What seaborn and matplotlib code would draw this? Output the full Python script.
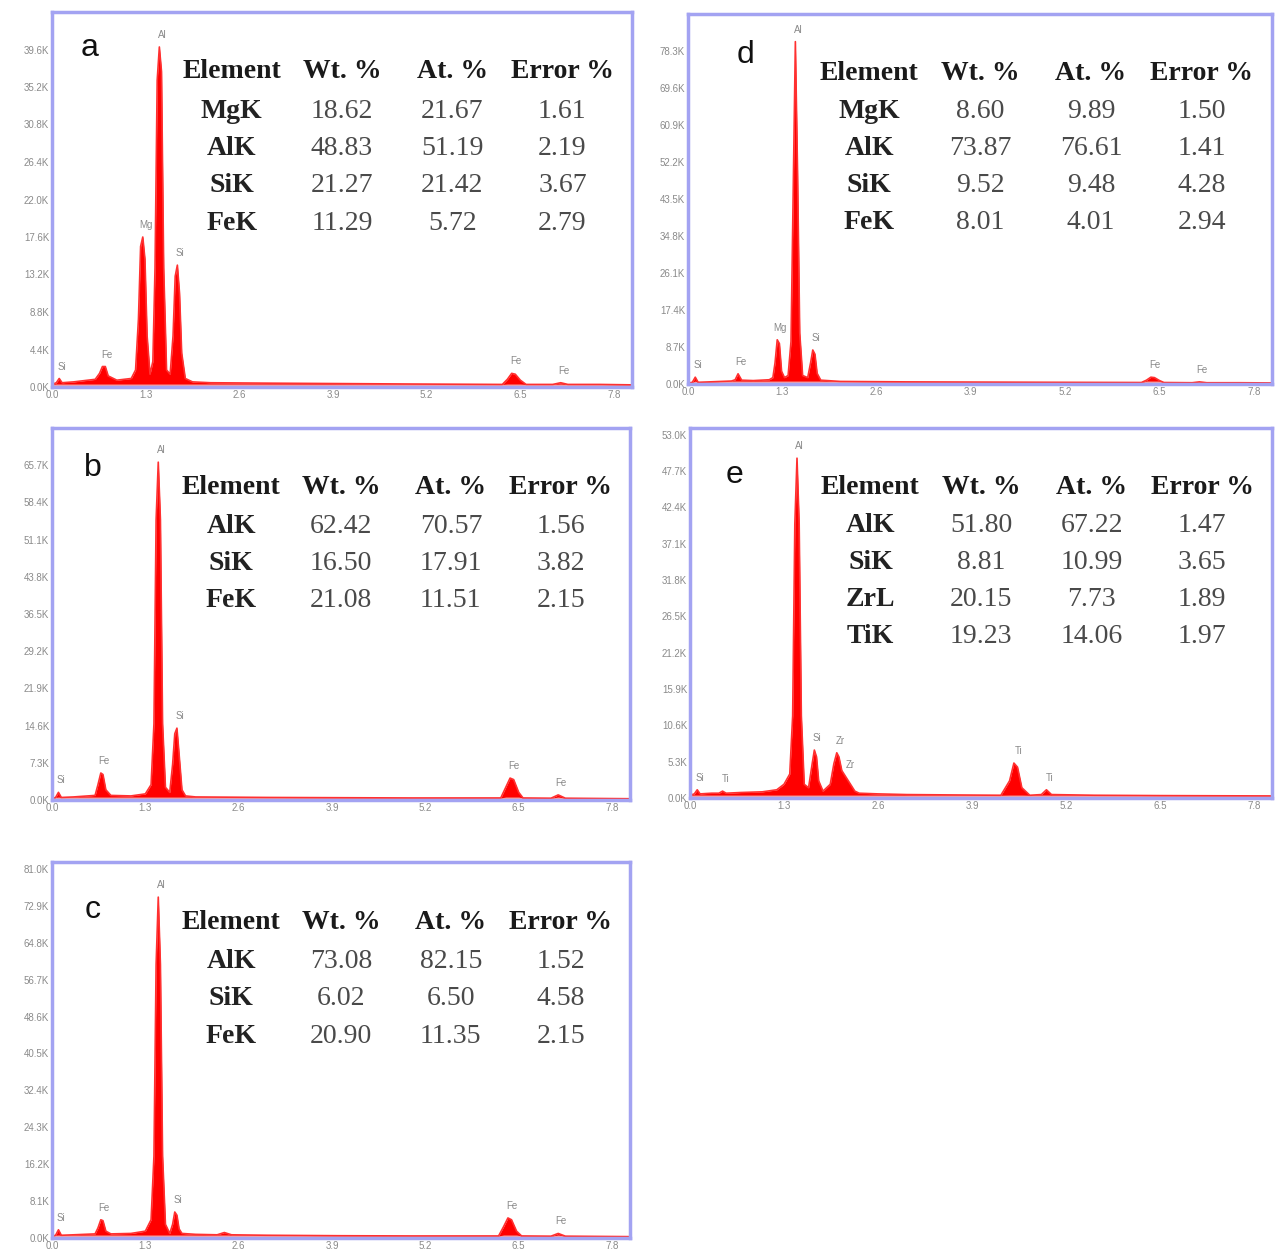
import numpy as np
import matplotlib.pyplot as plt
import seaborn as sns

# EDS spectra: energy in keV, counts in thousands
energy_a = [0.00, 0.06, 0.10, 0.14, 0.30, 0.60, 0.66, 0.70, 0.74, 0.78, 0.90, 1.10, 1.16, 1.20, 1.23,
            1.26, 1.29, 1.32, 1.36, 1.40, 1.43, 1.46, 1.49, 1.52, 1.55, 1.59, 1.64, 1.68, 1.71,
            1.74, 1.77, 1.80, 1.85, 1.95, 2.20, 3.00, 4.00, 5.00, 6.25, 6.32, 6.38, 6.43, 6.50,
            6.58, 6.95, 7.06, 7.16, 7.60, 8.05]
counts_a = [0.3, 0.5, 1.0, 0.5, 0.6, 0.9, 1.6, 2.4, 2.4, 1.3, 0.8, 1.0, 2.0, 8.0, 16.5,
            17.6, 15.0, 6.0, 1.5, 3.0, 14.0, 36.0, 39.9, 37.0, 14.0, 2.0, 1.5, 6.0, 13.0,
            14.3, 11.0, 4.0, 1.0, 0.6, 0.5, 0.45, 0.4, 0.35, 0.3, 0.9, 1.6, 1.5, 0.8,
            0.3, 0.3, 0.5, 0.3, 0.3, 0.25]

energy_d = [0.00, 0.06, 0.10, 0.14, 0.30, 0.60, 0.65, 0.69, 0.74, 0.90, 1.12, 1.17, 1.20, 1.23, 1.26,
            1.29, 1.33, 1.38, 1.42, 1.45, 1.48, 1.51, 1.54, 1.58, 1.65, 1.69, 1.72, 1.75, 1.78,
            1.83, 2.10, 3.00, 4.00, 5.00, 6.25, 6.32, 6.38, 6.43, 6.50, 6.56, 6.95, 7.05, 7.15,
            7.60, 8.05]
counts_d = [0.2, 0.4, 1.6, 0.4, 0.5, 0.7, 1.0, 2.4, 0.9, 0.8, 1.0, 1.5, 5.0, 10.4, 9.5,
            3.0, 1.5, 2.0, 10.0, 45.0, 80.5, 50.0, 12.0, 2.0, 1.5, 5.0, 8.0, 7.0, 2.5,
            0.9, 0.6, 0.5, 0.45, 0.4, 0.35, 0.9, 1.6, 1.5, 0.8, 0.35, 0.3, 0.5, 0.3,
            0.3, 0.25]

energy_b = [0.00, 0.05, 0.09, 0.13, 0.30, 0.60, 0.64, 0.68, 0.71, 0.75, 0.82, 1.10, 1.30, 1.38, 1.42,
            1.45, 1.48, 1.51, 1.54, 1.58, 1.64, 1.68, 1.71, 1.74, 1.77, 1.81, 1.86, 2.00, 3.00,
            4.00, 5.00, 6.25, 6.32, 6.38, 6.43, 6.50, 6.56, 6.95, 7.05, 7.15, 7.60, 8.05]
counts_b = [0.3, 0.5, 1.5, 0.5, 0.6, 0.9, 3.0, 5.3, 5.0, 2.0, 0.9, 0.8, 1.2, 3.0, 15.0,
            55.0, 66.3, 55.0, 15.0, 2.5, 1.5, 7.0, 13.0, 14.1, 9.0, 2.0, 0.8, 0.6, 0.5,
            0.45, 0.4, 0.4, 2.5, 4.3, 4.0, 1.5, 0.4, 0.35, 1.0, 0.35, 0.3, 0.25]

energy_e = [0.00, 0.06, 0.10, 0.14, 0.30, 0.40, 0.45, 0.50, 0.70, 1.00, 1.20, 1.30, 1.38, 1.42, 1.45,
            1.48, 1.51, 1.54, 1.58, 1.64, 1.69, 1.72, 1.75, 1.78, 1.84, 1.94, 1.99, 2.03, 2.06,
            2.10, 2.16, 2.22, 2.28, 2.34, 2.60, 3.00, 3.60, 4.30, 4.42, 4.48, 4.53, 4.59, 4.70,
            4.86, 4.93, 5.00, 5.60, 6.50, 8.05]
counts_e = [0.4, 0.6, 1.2, 0.6, 0.7, 0.7, 1.0, 0.7, 0.8, 0.9, 1.2, 2.0, 3.5, 12.0, 40.0,
            49.6, 40.0, 12.0, 2.0, 1.5, 5.0, 7.0, 6.0, 2.5, 1.0, 2.0, 5.0, 6.6, 6.0,
            4.0, 3.0, 2.0, 1.0, 0.7, 0.6, 0.5, 0.45, 0.4, 2.5, 5.1, 4.5, 1.5, 0.4,
            0.5, 1.2, 0.5, 0.4, 0.35, 0.3]

energy_c = [0.00, 0.05, 0.09, 0.13, 0.30, 0.60, 0.64, 0.68, 0.71, 0.75, 0.82, 1.10, 1.30, 1.38, 1.42,
            1.45, 1.48, 1.51, 1.54, 1.58, 1.64, 1.68, 1.71, 1.74, 1.77, 1.81, 2.00, 2.30, 2.40,
            2.50, 3.00, 4.00, 5.00, 6.22, 6.29, 6.35, 6.40, 6.47, 6.54, 6.95, 7.05, 7.15, 7.60,
            8.05]
counts_c = [0.4, 0.6, 1.8, 0.6, 0.7, 0.9, 2.2, 4.0, 3.8, 1.5, 0.9, 1.0, 1.5, 4.0, 18.0,
            60.0, 74.8, 60.0, 18.0, 3.0, 1.0, 3.0, 5.7, 5.0, 2.0, 1.0, 0.8, 0.7, 1.2,
            0.7, 0.6, 0.5, 0.45, 0.45, 2.5, 4.4, 4.0, 1.5, 0.45, 0.4, 1.0, 0.4, 0.35,
            0.3]

# peak labels (element, energy keV)
peaks_a = [("Si", 0.10), ("Fe", 0.72), ("Mg", 1.26), ("Al", 1.49), ("Si", 1.74), ("Fe", 6.40), ("Fe", 7.06)]
peaks_d = [("Si", 0.10), ("Fe", 0.69), ("Mg", 1.23), ("Al", 1.48), ("Si", 1.72), ("Fe", 6.40), ("Fe", 7.05)]
peaks_b = [("Si", 0.09), ("Fe", 0.69), ("Al", 1.48), ("Si", 1.74), ("Fe", 6.40), ("Fe", 7.05)]
peaks_e = [("Si", 0.10), ("Ti", 0.45), ("Al", 1.48), ("Si", 1.72), ("Zr", 2.04), ("Zr", 2.18),
           ("Ti", 4.50), ("Ti", 4.93)]
peaks_c = [("Si", 0.09), ("Fe", 0.69), ("Al", 1.48), ("Si", 1.72), ("Fe", 6.37), ("Fe", 7.05)]

# quantification tables
table_header = ["Element", "Wt. %", "At. %", "Error %"]
table_a = [["MgK", "18.62", "21.67", "1.61"], ["AlK", "48.83", "51.19", "2.19"],
           ["SiK", "21.27", "21.42", "3.67"], ["FeK", "11.29", "5.72", "2.79"]]
table_d = [["MgK", "8.60", "9.89", "1.50"], ["AlK", "73.87", "76.61", "1.41"],
           ["SiK", "9.52", "9.48", "4.28"], ["FeK", "8.01", "4.01", "2.94"]]
table_b = [["AlK", "62.42", "70.57", "1.56"], ["SiK", "16.50", "17.91", "3.82"],
           ["FeK", "21.08", "11.51", "2.15"]]
table_e = [["AlK", "51.80", "67.22", "1.47"], ["SiK", "8.81", "10.99", "3.65"],
           ["ZrL", "20.15", "7.73", "1.89"], ["TiK", "19.23", "14.06", "1.97"]]
table_c = [["AlK", "73.08", "82.15", "1.52"], ["SiK", "6.02", "6.50", "4.58"],
           ["FeK", "20.90", "11.35", "2.15"]]

# y axis: tick step (K), number of ticks, upper limit
ystep = {"a": 4.4, "d": 8.7, "b": 7.3, "e": 5.3, "c": 8.1}
yticks_n = {"a": 10, "d": 10, "b": 10, "e": 11, "c": 11}
ytop = {"a": 44.0, "d": 87.0, "b": 73.0, "e": 54.0, "c": 82.5}
xticks = [0.0, 1.3, 2.6, 3.9, 5.2, 6.5, 7.8]

panels = {
    "a": (energy_a, counts_a, peaks_a, table_a),
    "d": (energy_d, counts_d, peaks_d, table_d),
    "b": (energy_b, counts_b, peaks_b, table_b),
    "e": (energy_e, counts_e, peaks_e, table_e),
    "c": (energy_c, counts_c, peaks_c, table_c),
}

W, H = 1280, 1256
# axes boxes in pixels: left, top, right, bottom
boxes = {"a": (52, 12, 632, 387), "d": (688, 14, 1272, 384), "b": (52, 428, 630, 800),
         "e": (690, 428, 1272, 798), "c": (52, 862, 630, 1238)}
letter_pos = {"a": (0.064, 0.905), "d": (0.098, 0.889), "b": (0.071, 0.892),
              "e": (0.077, 0.873), "c": (0.071, 0.872)}

sns.set_style("white")
plt.rcParams['font.family'] = ['Liberation Sans', 'DejaVu Sans']

fig = plt.figure(figsize=(W / 100, H / 100), dpi=100)
spine_col = "#a3a3f2"
col_x = [0.31, 0.50, 0.69, 0.88]

for key, (energy, counts, peaks, table) in panels.items():
    l, t, r, b = boxes[key]
    ax = fig.add_axes([l / W, 1 - b / H, (r - l) / W, (b - t) / H])
    e = np.array(energy)
    cts = np.array(counts)
    ax.fill_between(e, 0, cts, color="#ff0000", lw=0)
    sns.lineplot(x=e, y=cts, ax=ax, color="#ff3030", lw=1.2)
    # thin pale continuum band along the baseline
    ax.fill_between(e, 0, np.minimum(cts, 0.35 * ytop[key] / 44), color="#f5a0a0", lw=0)

    ax.set_xlim(0, 8.05)
    ax.set_ylim(0, ytop[key])
    ax.set_xticks(xticks)
    ax.set_xticklabels([f"{v:.1f}" for v in xticks])
    yt = [i * ystep[key] for i in range(yticks_n[key])]
    ax.set_yticks(yt)
    ax.set_yticklabels([f"{v:.1f}K" for v in yt])
    ax.tick_params(axis="both", labelsize=7, labelcolor="#8a8a8a", colors=spine_col,
                   direction="in", length=3, width=1.2, pad=2)
    for lab in ax.get_xticklabels() + ax.get_yticklabels():
        lab.set_color("#8a8a8a")
    for s in ax.spines.values():
        s.set_color(spine_col)
        s.set_linewidth(2.5)
    ax.set_xlabel("")
    ax.set_ylabel("")

    for name, pe in peaks:
        near = np.abs(e - pe) < 0.05
        top = cts[near].max() if near.any() else np.interp(pe, e, cts)
        ax.annotate(name, (pe, top), xytext=(2, 5), textcoords="offset points",
                    ha="center", va="bottom", fontsize=7, color="#8a8a8a")

    ax.text(*letter_pos[key], key, transform=ax.transAxes, fontsize=23,
            ha="center", va="center", color="#111111")

    for j, h in enumerate(table_header):
        ax.text(col_x[j], 0.84, h, transform=ax.transAxes, ha="center", va="center",
                fontsize=20, fontweight="bold", family="Liberation Serif", color="#1a1a1a")
    for i, row in enumerate(table):
        y = 0.736 - i * 0.1
        for j, val in enumerate(row):
            ax.text(col_x[j], y, val, transform=ax.transAxes, ha="center", va="center",
                    fontsize=20, family="Liberation Serif",
                    fontweight="bold" if j == 0 else "normal",
                    color="#222222" if j == 0 else "#4a4a4a")

fig.savefig("out.png", dpi=100)
plt.close(fig)
